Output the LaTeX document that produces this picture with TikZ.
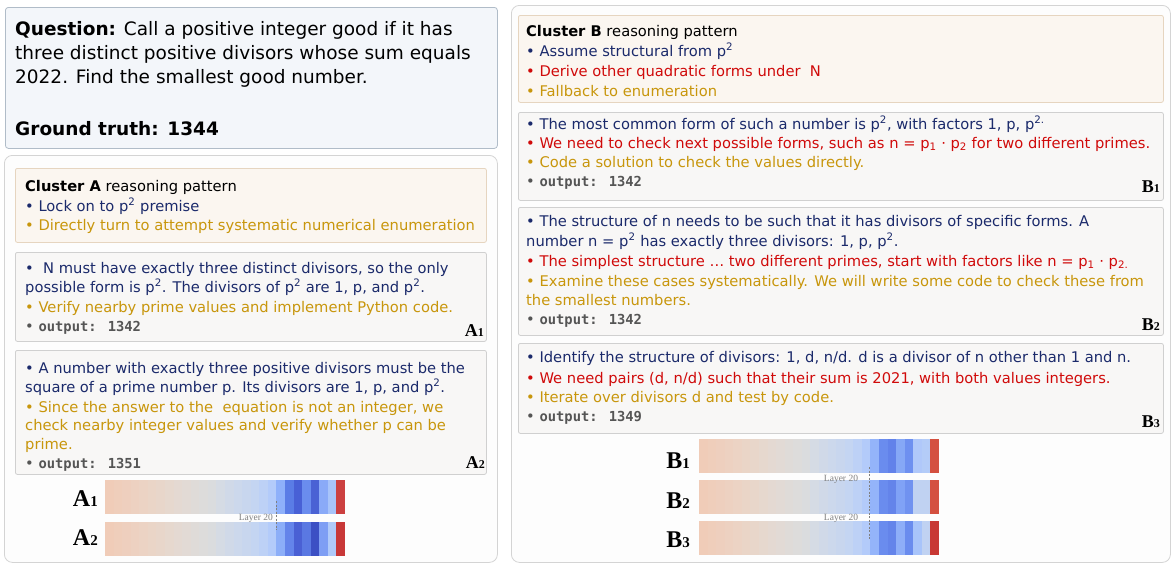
\documentclass[tikz,border=0pt]{standalone}
\usepackage{fontspec}
\setmainfont{DejaVu Sans}
\newfontfamily\serifb{Liberation Serif}
\newfontfamily\monof{DejaVu Sans Mono}
\definecolor{navy}{HTML}{1B2A6B}
\definecolor{redt}{HTML}{D00A0A}
\definecolor{gold}{HTML}{C8960C}
\definecolor{outg}{HTML}{555555}
\definecolor{qfill}{HTML}{F3F6FA}
\definecolor{qdraw}{HTML}{B0BCC8}
\definecolor{pfill}{HTML}{FDFDFD}
\definecolor{pdraw}{HTML}{D4D4D4}
\definecolor{cfill}{HTML}{FBF6F0}
\definecolor{cdraw}{HTML}{E6D5C0}
\definecolor{efill}{HTML}{F8F7F6}
\definecolor{edraw}{HTML}{D0D0D0}
\newcommand{\bodyf}{\fontsize{14.7}{17}\selectfont}
\newcommand{\qf}{\fontsize{18.5}{21}\selectfont}
\newcommand{\outp}[1]{{\monof\bfseries\fontsize{13.8}{16}\selectfont\color{outg}#1}}
\newcommand{\sublbl}[2]{{\serifb\bfseries\fontsize{18}{18}\selectfont #1{\fontsize{12}{12}\selectfont #2}}}
\newcommand{\biglbl}[2]{{\serifb\bfseries\fontsize{24}{24}\selectfont #1{\fontsize{15}{15}\selectfont #2}}}
\def\heatpre{F0CCB8,EFCEBB,EECFBE,EDD1C1,ECD3C4,EAD5C7,E8D6CA,E6D8CE,E4D9D2,E2DAD5,DFDBD8,DDDCDB,DADCDE,D5DBE4,D0D9E8,CCD8EC,C8D6EE,C4D5F2,BDD1F6,B3CBFA}
\newcommand{\heatbar}[3]{%
  \edef\heatlist{\heatpre,#3}%
  \foreach \h [count=\i from 0] in \heatlist {%
    \definecolor{hc}{HTML}{\h}%
    \fill[hc] ({#1+\i*240/28},#2) rectangle ++({240/28+0.3},34);
  }%
}
\tikzset{
  ln/.style={anchor=base west, inner sep=0pt, font=\bodyf},
  qln/.style={anchor=base west, inner sep=0pt, font=\qf},
  qbox/.style={anchor=north west, fill=qfill, draw=qdraw, line width=0.8pt, rounded corners=3pt, inner sep=0pt},
  panel/.style={anchor=north west, fill=pfill, draw=pdraw, line width=0.8pt, rounded corners=8pt, inner sep=0pt},
  cbox/.style={anchor=north west, fill=cfill, draw=cdraw, line width=0.8pt, rounded corners=2pt, inner sep=0pt},
  ebox/.style={anchor=north west, fill=efill, draw=edraw, line width=0.8pt, rounded corners=2pt, inner sep=0pt},
  blbl/.style={anchor=base east, inner sep=0pt},
  barbox/.style={anchor=north west, inner sep=0pt, minimum width=240pt, minimum height=34pt},
  layerl/.style={anchor=base, inner sep=0pt, font=\serifb\fontsize{9.5}{9.5}\selectfont, text=gray},
  lyr/.style={draw=gray, dash pattern=on 2pt off 1.5pt, line width=0.6pt},
}
\begin{document}
\begin{tikzpicture}[x=1pt,y=-1pt]
\useasboundingbox (0,0) rectangle (1175,568);
% ---------- question ----------
\node[qbox, minimum width=492pt, minimum height=141pt] (q) at (5,7) {};
\node[qln] (q1) at (15,35) {\textbf{Question:} Call a positive integer good if it has};
\node[qln] (q2) at (15,59) {three distinct positive divisors whose sum equals};
\node[qln] (q3) at (15,83) {2022. Find the smallest good number.};
\node[qln] (q4) at (15,135) {\textbf{Ground truth: 1344}};
% ---------- left panel ----------
\node[panel, minimum width=493pt, minimum height=407pt] (lp) at (4,155) {};
\node[cbox, minimum width=471pt, minimum height=74pt] (ca) at (15,168) {};
\node[ln] (ca1) at (25,191) {\textbf{Cluster A} reasoning pattern};
\node[ln, text=navy] (ca2) at (25,211) {• Lock on to p\textsuperscript{2} premise};
\node[ln, text=gold] (ca3) at (25,230) {• Directly turn to attempt systematic numerical enumeration};
\node[ebox, minimum width=471pt, minimum height=89pt] (ea1) at (15,252) {};
\node[ln, text=navy] (a11) at (25,273) {•\ \ N must have exactly three distinct divisors, so the only};
\node[ln, text=navy] (a12) at (25,292) {possible form is p\textsuperscript{2}. The divisors of p\textsuperscript{2} are 1, p, and p\textsuperscript{2}.};
\node[ln, text=gold] (a13) at (25,312) {• Verify nearby prime values and implement Python code.};
\node[ln, text=outg] (a14) at (25,331) {• \outp{output: 1342}};
\node[blbl] (la1) at (484,336) {\sublbl{A}{1}};
\node[ebox, minimum width=471pt, minimum height=124pt] (ea2) at (15,350) {};
\node[ln, text=navy] (a21) at (25,373) {• A number with exactly three positive divisors must be the};
\node[ln, text=navy] (a22) at (25,392) {square of a prime number p. Its divisors are 1, p, and p\textsuperscript{2}.};
\node[ln, text=gold] (a23) at (25,412) {• Since the answer to the\ \ equation is not an integer, we};
\node[ln, text=gold] (a24) at (25,430) {check nearby integer values and verify whether p can be};
\node[ln, text=gold] (a25) at (25,449) {prime.};
\node[ln, text=outg] (a26) at (25,468) {• \outp{output: 1351}};
\node[blbl] (la2) at (485,468) {\sublbl{A}{2}};
% heatmaps A
\node[barbox] (hA1) at (105,480) {};
\node[barbox] (hA2) at (105,522) {};
\heatbar{105}{480}{8EB0FA,5A7CE6,4860D6,6A8CEE,4A62D4,8AAAF8,A8C4FA,CC4040}
\heatbar{105}{522}{8CAEF8,6484EA,4A60D4,5A78E2,3C50C4,7E9EF4,B0CAFA,C83838}
\node[blbl] (hA1l) at (98,506) {\biglbl{A}{1}};
\node[blbl] (hA2l) at (98,545) {\biglbl{A}{2}};
\coordinate (dA1) at (276,501);
\coordinate (dA2) at (276,530);
\draw[lyr] (dA1) -- (dA2);
\node[layerl, anchor=base east] (lyA) at (273,520) {Layer 20};
% ---------- right panel ----------
\node[panel, minimum width=659pt, minimum height=557pt] (rp) at (511,5) {};
\node[cbox, minimum width=645pt, minimum height=87pt] (cb) at (518,15) {};
\node[ln] (cb1) at (526,36) {\textbf{Cluster B} reasoning pattern};
\node[ln, text=navy] (cb2) at (526,56) {• Assume structural from p\textsuperscript{2}};
\node[ln, text=redt] (cb3) at (526,76) {• Derive other quadratic forms under\ \ N};
\node[ln, text=gold] (cb4) at (526,96) {• Fallback to enumeration};
\node[ebox, minimum width=645pt, minimum height=88pt] (eb1) at (518,112) {};
\node[ln, text=navy] (b11) at (526,129) {• The most common form of such a number is p\textsuperscript{2}, with factors 1, p, p\textsuperscript{2.}};
\node[ln, text=redt] (b12) at (526,148) {• We need to check next possible forms, such as n = p\textsubscript{1} · p\textsubscript{2} for two different primes.};
\node[ln, text=gold] (b13) at (526,167) {• Code a solution to check the values directly.};
\node[ln, text=outg] (b14) at (526,186) {• \outp{output: 1342}};
\node[blbl] (lb1) at (1160,192) {\sublbl{B}{1}};
\node[ebox, minimum width=645pt, minimum height=128pt] (eb2) at (518,207) {};
\node[ln, text=navy] (b21) at (526,226) {• The structure of n needs to be such that it has divisors of specific forms. A};
\node[ln, text=navy] (b22) at (526,246) {number n = p\textsuperscript{2} has exactly three divisors: 1, p, p\textsuperscript{2}.};
\node[ln, text=redt] (b23) at (526,266) {• The simplest structure … two different primes, start with factors like n = p\textsubscript{1} · p\textsubscript{2.}};
\node[ln, text=gold] (b24) at (526,286) {• Examine these cases systematically. We will write some code to check these from};
\node[ln, text=gold] (b25) at (526,305) {the smallest numbers.};
\node[ln, text=outg] (b26) at (526,324) {• \outp{output: 1342}};
\node[blbl] (lb2) at (1160,330) {\sublbl{B}{2}};
\node[ebox, minimum width=645pt, minimum height=90pt] (eb3) at (518,343) {};
\node[ln, text=navy] (b31) at (526,362) {• Identify the structure of divisors: 1, d, n/d. d is a divisor of n other than 1 and n.};
\node[ln, text=redt] (b32) at (526,383) {• We need pairs (d, n/d) such that their sum is 2021, with both values integers.};
\node[ln, text=gold] (b33) at (526,402) {• Iterate over divisors d and test by code.};
\node[ln, text=outg] (b34) at (526,421) {• \outp{output: 1349}};
\node[blbl] (lb3) at (1160,427) {\sublbl{B}{3}};
% heatmaps B
\node[barbox] (hB1) at (699,439) {};
\node[barbox] (hB2) at (699,480) {};
\node[barbox] (hB3) at (699,521) {};
\heatbar{699}{439}{94B4FA,6A8CEE,6282EA,86A8F6,6E90F0,B0C8FA,B4CCF8,D45040}
\heatbar{699}{480}{94B4FA,6A8CEE,6484EA,80A2F6,7092F0,C0D2F2,C0D2F2,D45040}
\heatbar{699}{521}{94B4FA,6A8CEE,6484EA,8EAEF8,6A8CEE,A8C4FA,C0D2F2,C83834}
\node[blbl] (hB1l) at (690,468) {\biglbl{B}{1}};
\node[blbl] (hB2l) at (690,508) {\biglbl{B}{2}};
\node[blbl] (hB3l) at (690,547) {\biglbl{B}{3}};
\coordinate (dB1) at (869,467);
\coordinate (dB2) at (869,540);
\draw[lyr] (dB1) -- (dB2);
\node[layerl] (lyB1) at (841,481) {Layer 20};
\node[layerl] (lyB2) at (841,520) {Layer 20};
\end{tikzpicture}
\end{document}
